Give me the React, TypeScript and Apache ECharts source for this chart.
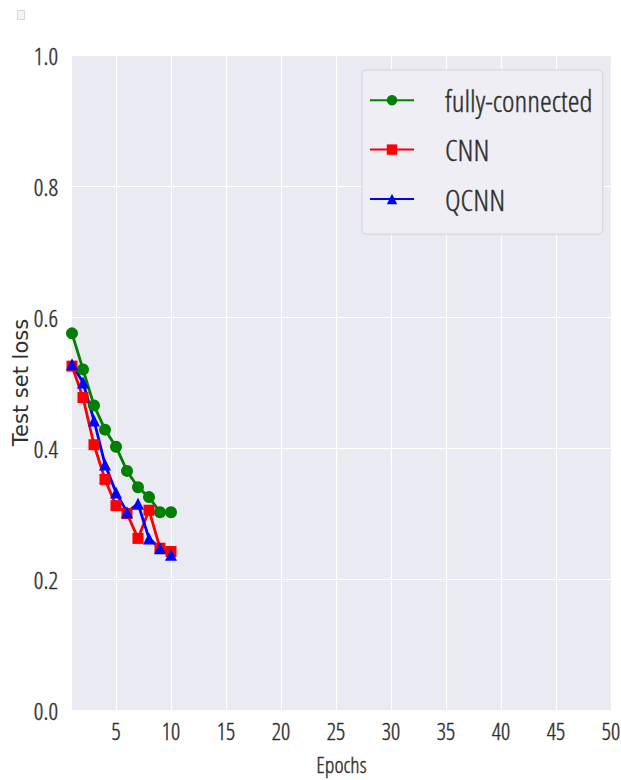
import React, { useEffect, useRef } from "react";
import * as echarts from "echarts";

const epochs = [1, 2, 3, 4, 5, 6, 7, 8, 9, 10];
const fullyConnected = [0.575, 0.52, 0.465, 0.428, 0.402, 0.365, 0.34, 0.325, 0.302, 0.302];
const cnn = [0.525, 0.477, 0.405, 0.352, 0.312, 0.3, 0.262, 0.305, 0.247, 0.242];
const qcnn = [0.528, 0.5, 0.442, 0.375, 0.332, 0.302, 0.315, 0.262, 0.247, 0.237];
const xTicks = [5, 10, 15, 20, 25, 30, 35, 40, 45, 50];
const seriesNames = ["fully-connected", "CNN", "QCNN"];

const COND = '"Open Sans Condensed Light", "DejaVu Sans", sans-serif';
const TXT = "#2e2e2e";
const thick = { textBorderColor: TXT, textBorderWidth: 0.4 };

export default function App() {
  const ref = useRef<HTMLDivElement>(null);
  useEffect(() => {
    if (!ref.current) return;
    const chart = echarts.init(ref.current, null, { renderer: "svg" });
    const mk = (vals: number[]) => epochs.map((e, i) => [e, vals[i]]);
    chart.setOption({
      animation: false,
      backgroundColor: "#ffffff",
      grid: { left: 72, right: 10, top: 55, bottom: 70, show: true, backgroundColor: "#EAEAF2", borderWidth: 0, outerBoundsMode: "none", containLabel: false },
      xAxis: {
        type: "value",
        min: 1,
        max: 50,
        name: "Epochs",
        nameLocation: "middle",
        nameGap: 42,
        nameMoveOverlap: false,
        nameTextStyle: { fontFamily: COND, fontSize: 22, lineHeight: 24, color: TXT, ...thick },
        axisLine: { show: false },
        axisTick: { show: false, customValues: xTicks },
        axisLabel: { customValues: xTicks, margin: 9, fontFamily: COND, fontSize: 23, color: TXT, ...thick },
        splitLine: { show: true, lineStyle: { color: "#ffffff", width: 1.2 } },
      },
      yAxis: {
        type: "value",
        min: 0,
        max: 1,
        interval: 0.2,
        name: "Test set loss",
        nameLocation: "middle",
        nameRotate: 90,
        nameGap: 41,
        nameMoveOverlap: false,
        nameTextStyle: { fontFamily: '"DejaVu Sans", sans-serif', fontSize: 21, color: TXT },
        axisLine: { show: false },
        axisTick: { show: false },
        axisLabel: { margin: 14, fontFamily: COND, fontSize: 24, color: TXT, ...thick, formatter: (v: number) => v.toFixed(1) },
        splitLine: { show: true, lineStyle: { color: "#ffffff", width: 1.2 } },
      },
      legend: {
        orient: "vertical",
        left: 362,
        top: 70,
        data: seriesNames,
        itemWidth: 44,
        itemHeight: 13,
        itemGap: 19,
        padding: [15, 10, 20, 7],
        backgroundColor: "#EEEEF4",
        borderColor: "#d2d2d6",
        borderWidth: 1,
        borderRadius: 4,
        textStyle: { fontFamily: COND, fontSize: 30, lineHeight: 30, color: TXT, ...thick, padding: [0, 0, 0, 26] },
      },
      graphic: [
        { type: "rect", left: 17, top: 10, shape: { width: 7, height: 9 }, style: { fill: "#f4f4f4", stroke: "#d8d8d8", lineWidth: 1 } },
      ],
      series: [
        { name: "fully-connected", type: "line", data: mk(fullyConnected), color: "#008000", symbol: "circle", symbolSize: 12, lineStyle: { width: 2.8 } },
        { name: "CNN", type: "line", data: mk(cnn), color: "#ff0000", symbol: "rect", symbolSize: 11, lineStyle: { width: 2.8 } },
        { name: "QCNN", type: "line", data: mk(qcnn), color: "#0000ff", symbol: "triangle", symbolSize: 12, lineStyle: { width: 2.8 } },
      ],
    });
    return () => chart.dispose();
  }, []);
  return <div ref={ref} style={{ width: 621, height: 780, position: "absolute", left: 0, top: 0 }} />;
}
